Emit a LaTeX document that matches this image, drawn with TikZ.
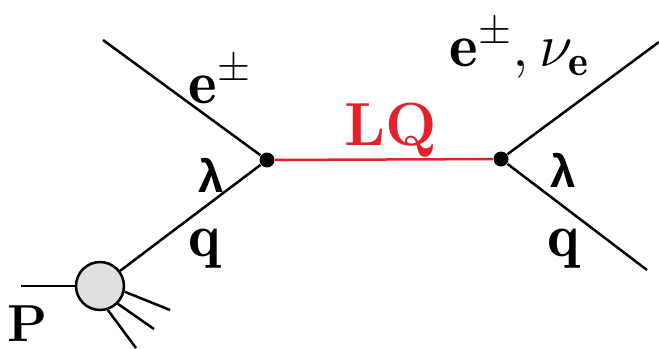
\RequirePackage{fix-cm}
\documentclass[tikz,border=0pt]{standalone}
\usepackage{fontspec}
\newfontfamily\lamfont{Liberation Sans}
\usetikzlibrary{positioning}
\definecolor{lqred}{RGB}{228,32,40}

\begin{document}
\begin{tikzpicture}[
  x=0.34pt, y=-0.34pt,
  % Estilos de lineas
  leg/.style={draw, line width=0.85pt},
  lqline/.style={draw=lqred, line width=0.85pt},
  % Estilos de nodos
  vtx/.style={circle, fill=black, inner sep=0pt, minimum size=5.1pt},
  lbl/.style={anchor=base west, inner sep=0pt, font=\huge},
  lam/.style={inner sep=0pt, font=\lamfont\bfseries\fontsize{15.5}{18}\selectfont}
]
  \useasboundingbox (0,0) rectangle (659,348);

  % ==========================================
  % VERTICES AND PROTON
  % ==========================================
  \node[vtx] (vtxL) at (267,160) {};
  \node[vtx] (vtxR) at (501,159) {};
  \node[circle, draw, fill=black!12, line width=0.85pt, inner sep=0pt, minimum size=16.3pt] (blob) at (100,286) {};

  % Free ends
  \coordinate (eL) at (103,40);
  \coordinate (eR) at (659,42);
  \coordinate (qR) at (647,270);
  \coordinate (pIn) at (21,286);
  \coordinate (frag1) at (170,310);
  \coordinate (frag2) at (154,329);
  \coordinate (frag3) at (136,348);

  % ==========================================
  % LINES
  % ==========================================
  \draw[lqline] (vtxL) -- (vtxR);
  \draw[leg] (eL) -- (vtxL);
  \draw[leg] (vtxL) -- (blob);
  \draw[leg] (vtxR) -- (eR);
  \draw[leg] (vtxR) -- (qR);
  \draw[leg] (pIn) -- (blob.west);
  \draw[leg] (blob.-13) -- (frag1);
  \draw[leg] (blob.-45) -- (frag2);
  \draw[leg] (blob.-72) -- (frag3);

  % ==========================================
  % LABELS
  % ==========================================
  \node[lbl] (lblEL) at (188,103) {$\mathbf{e}^{\pm}$};
  \node[lam] (lamL) at (211,175) {λ};
  \node[lbl] (lblQL) at (188,256) {$\mathbf{q}$};
  \node[lbl, text=lqred, font=\bfseries\fontsize{20.7}{24}\selectfont] (lblLQ) at (344,145) {LQ};
  \node[lbl] (lblER) at (449,66) {$\mathbf{e}^{\pm}, \nu_{\mathbf{e}}$};
  \node[lam] (lamR) at (563,170) {λ};
  \node[lbl] (lblQR) at (547,256) {$\mathbf{q}$};
  \node[lbl, font=\bfseries\fontsize{17.7}{21}\selectfont] (lblP) at (7,341) {P};

\end{tikzpicture}
\end{document}
